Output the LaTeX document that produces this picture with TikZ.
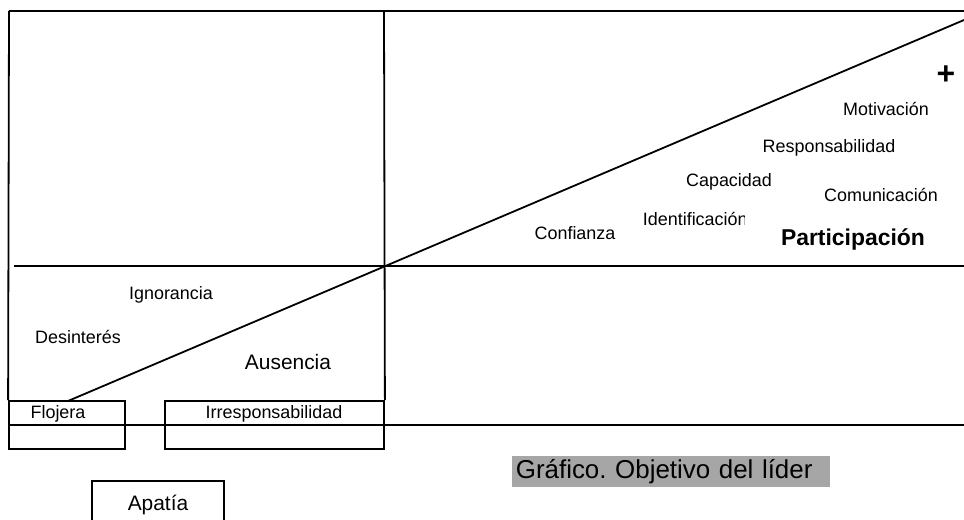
\documentclass[tikz,border=0pt]{standalone}
\usepackage{fontspec}
\setmainfont{Liberation Sans}
\usetikzlibrary{positioning}
\definecolor{rotulo}{RGB}{166,166,166}
\frenchspacing

\begin{document}
\begin{tikzpicture}[x=1bp,y=-1bp,line width=1.8bp,
    palabra/.style={font=\fontsize{18}{20}\selectfont,inner sep=0pt},
    grande/.style={font=\fontsize{21}{24}\selectfont,inner sep=0pt},
    caja/.style={draw,inner sep=0pt,line width=1.8bp}]
    \useasboundingbox (0,0) rectangle (964,520);
    \clip (0,0) rectangle (964,520);
    % marco y ejes
    \coordinate (arribaizq) at (9,11);
    \coordinate (arribader) at (964,11);
    \coordinate (arribamed) at (384,11);
    \coordinate (ejeizq) at (14,266);
    \coordinate (ejeder) at (964,266);
    \coordinate (baseizq) at (9,425);
    \coordinate (baseder) at (964,425);
    \coordinate (puntamax) at (964,20);
    % cajas de abajo
    \node[caja,minimum width=116bp,minimum height=48bp] (flojera) at (67,425) {};
    \node[caja,minimum width=219bp,minimum height=48bp] (irresp) at (274.5,425) {};
    \node[caja,minimum width=132bp,minimum height=60bp] (apatia) at (158,511) {};
    \coordinate (pie) at (68,401);
    \draw (arribaizq) -- (arribader);
    \draw (arribaizq) -- (flojera.north west);
    \draw (arribamed) -- (irresp.north east);
    \draw (ejeizq) -- (ejeder);
    \draw (baseizq) -- (baseder);
    \draw (pie) -- (puntamax);
    % textos de la caja baja
    \node[palabra] (tflojera) at (58,414) {Flojera};
    \node[palabra] (tirresp) at (274,414) {Irresponsabilidad};
    \node[grande] (tapatia) at (158,505) {Apatía};
    \node[palabra] (ignorancia) at (171,295) {Ignorancia};
    \node[palabra] (desinteres) at (78,337) {Desinterés};
    \node[grande] (ausencia) at (288,362) {Ausencia};
    % lado de la participacion
    \node[font=\fontsize{32}{34}\selectfont\bfseries,inner sep=0pt] (mas) at (946,75) {+};
    \node[palabra] (motivacion) at (886,109) {Motivación};
    \node[palabra] (responsab) at (829,148) {Responsabilidad};
    \node[palabra] (capacidad) at (729,182) {Capacidad};
    \node[palabra] (comunicacion) at (881,195) {Comunicación};
    \begin{scope}
      \clip (600,200) rectangle (744,240);
      \node[palabra,anchor=west] (identif) at (642,219) {Identificación};
    \end{scope}
    \node[palabra] (confianza) at (575,233) {Confianza};
    \node[font=\fontsize{23}{26}\selectfont\bfseries,inner sep=0pt] (particip) at (853,239) {Participación};
    % rotulo
    \node[fill=rotulo,anchor=north west,minimum height=31bp,text width=310bp,
      inner xsep=4bp,inner ysep=0pt,align=left,font=\fontsize{26}{28}\selectfont]
      (rotulo) at (511,455) {Gráfico. Objetivo del líder};
\end{tikzpicture}
\end{document}
